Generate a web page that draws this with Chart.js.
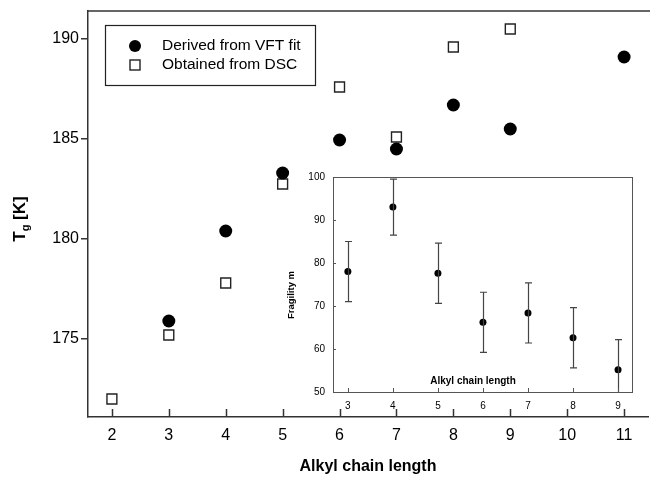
<!DOCTYPE html>
<html>
<head>
<meta charset="utf-8">
<script src="https://cdn.jsdelivr.net/npm/chart.js@4.4.1/dist/chart.umd.min.js"></script>
<style>
  html, body { margin: 0; padding: 0; background: #fff; }
  #wrap { position: relative; width: 650px; height: 477px; }
  #mainChart { position: absolute; left: 0; top: 0; }
  #insetChart { position: absolute; left: 280px; top: 165px; }
</style>
</head>
<body>
<div id="wrap">
  <canvas id="mainChart" width="650" height="477"></canvas>
  <canvas id="insetChart" width="365" height="250"></canvas>
</div>
<script>
// dati grafico principale
const vftChain = [3, 4, 5, 6, 7, 8, 9, 11];
const vftTg = [175.9, 180.4, 183.3, 184.95, 184.5, 186.7, 185.5, 189.1];
const dscChain = [2, 3, 4, 5, 6, 7, 8, 9];
const dscTg = [172.0, 175.2, 177.8, 182.75, 187.6, 185.1, 189.6, 190.5];
const mainXTicks = [2, 3, 4, 5, 6, 7, 8, 9, 10, 11];
const mainYTicks = [175, 180, 185, 190];

// dati inserto (fragilita)
const insetChain = [3, 4, 5, 6, 7, 8, 9];
const fragility = [78.0, 93.0, 77.6, 66.2, 68.4, 62.6, 55.2];
const fragilityErr = [7.0, 6.5, 7.0, 7.0, 7.0, 7.0, 7.0];
const insetXTicks = [3, 4, 5, 6, 7, 8, 9];
const insetYTicks = [50, 60, 70, 80, 90, 100];

const FONT = "'Liberation Sans', Arial, Helvetica, sans-serif";
const AXIS = '#333';

// niente padding automatico per le etichette agli estremi
function noEdgePad(s) {
  s.paddingLeft = 0;
  s.paddingRight = 0;
  s.paddingTop = 0;
  s.paddingBottom = 0;
}

// tick verso l'interno sull'asse x + bordo superiore + titolo y + legenda
const mainDecor = {
  id: 'mainDecor',
  afterDraw(chart) {
    const ctx = chart.ctx;
    const a = chart.chartArea;
    const xs = chart.scales.x;
    ctx.save();
    ctx.strokeStyle = AXIS;
    ctx.lineWidth = 1.5;
    // bordo superiore
    ctx.beginPath();
    ctx.moveTo(a.left, a.top);
    ctx.lineTo(650, a.top);
    ctx.stroke();
    // tick interni asse x
    mainXTicks.forEach(v => {
      const px = Math.round(xs.getPixelForValue(v)) + 0.5;
      ctx.beginPath();
      ctx.moveTo(px, a.bottom);
      ctx.lineTo(px, a.bottom - 8);
      ctx.stroke();
    });
    // titolo asse y: T_g [K]
    ctx.translate(20, (a.top + a.bottom) / 2 + 5);
    ctx.rotate(-Math.PI / 2);
    ctx.fillStyle = '#000';
    ctx.textBaseline = 'middle';
    ctx.font = 'bold 17px ' + FONT;
    const wT = ctx.measureText('T').width;
    ctx.font = 'bold 11px ' + FONT;
    const wg = ctx.measureText('g').width;
    ctx.font = 'bold 17px ' + FONT;
    const wK = ctx.measureText(' [K]').width;
    let x0 = -(wT + wg + wK) / 2;
    ctx.fillText('T', x0, 0);
    ctx.font = 'bold 11px ' + FONT;
    ctx.fillText('g', x0 + wT, 6);
    ctx.font = 'bold 17px ' + FONT;
    ctx.fillText(' [K]', x0 + wT + wg, 0);
    ctx.restore();

    // legenda
    ctx.save();
    const lx = a.left + 17, ly = a.top + 14, lw = 210, lh = 60;
    ctx.strokeStyle = '#222';
    ctx.lineWidth = 1.2;
    ctx.strokeRect(lx + 0.5, ly + 0.5, lw, lh);
    ctx.font = '15.5px ' + FONT;
    ctx.textBaseline = 'middle';
    ctx.fillStyle = '#000';
    chart.data.datasets.forEach((ds, i) => {
      const cy = ly + 21 + i * 19;
      const cx = lx + 30;
      if (ds.pointStyle === 'rect') {
        ctx.fillStyle = '#fff';
        ctx.fillRect(cx - 5, cy - 5, 10, 10);
        ctx.strokeStyle = '#222';
        ctx.lineWidth = 1.4;
        ctx.strokeRect(cx - 5, cy - 5, 10, 10);
      } else {
        ctx.fillStyle = '#000';
        ctx.beginPath();
        ctx.arc(cx, cy, 6, 0, Math.PI * 2);
        ctx.fill();
      }
      ctx.fillStyle = '#000';
      ctx.fillText(ds.label, lx + 57, cy);
    });
    ctx.restore();
  }
};

const mainChart = new Chart(document.getElementById('mainChart'), {
  type: 'scatter',
  data: {
    datasets: [{
      label: 'Derived from VFT fit',
      data: vftChain.map((c, i) => ({ x: c, y: vftTg[i] })),
      pointStyle: 'circle',
      pointRadius: 6.5,
      backgroundColor: '#000',
      borderColor: '#000',
      borderWidth: 0
    }, {
      label: 'Obtained from DSC',
      data: dscChain.map((c, i) => ({ x: c, y: dscTg[i] })),
      pointStyle: 'rect',
      pointRadius: 7,
      backgroundColor: '#fff',
      borderColor: '#222',
      borderWidth: 1.4
    }]
  },
  options: {
    responsive: false,
    animation: false,
    layout: { autoPadding: false, padding: { left: 0, right: 2, top: 11, bottom: 0 } },
    plugins: {
      legend: { display: false },
      tooltip: { enabled: false }
    },
    scales: {
      x: {
        type: 'linear',
        min: 1.58,
        max: 11.42,
        afterBuildTicks: s => { s.ticks = mainXTicks.map(v => ({ value: v })); },
        afterFit: s => { s.height = 60; noEdgePad(s); },
        grid: { display: true, drawOnChartArea: false, drawTicks: false },
        border: { color: AXIS, width: 1.5 },
        ticks: { color: '#000', font: { family: FONT, size: 16 }, padding: 9 },
        title: {
          display: true,
          text: 'Alkyl chain length',
          color: '#000',
          font: { family: FONT, size: 16, weight: 'bold' },
          padding: { top: 0, bottom: 1 }
        }
      },
      y: {
        type: 'linear',
        min: 171.1,
        max: 191.4,
        afterBuildTicks: s => { s.ticks = mainYTicks.map(v => ({ value: v })); },
        afterFit: s => { s.width = 88; noEdgePad(s); },
        grid: { display: true, drawOnChartArea: false, drawTicks: true, tickLength: 7, color: AXIS, lineWidth: 1.5 },
        border: { color: AXIS, width: 1.5 },
        ticks: { color: '#000', font: { family: FONT, size: 16 }, padding: 2 }
      }
    }
  },
  plugins: [mainDecor]
});

// inserto: barre d'errore, cornice, tick interni, titoli
const insetDecor = {
  id: 'insetDecor',
  afterDatasetsDraw(chart) {
    const ctx = chart.ctx;
    const a = chart.chartArea;
    const xs = chart.scales.x, ys = chart.scales.y;
    ctx.save();
    ctx.beginPath();
    ctx.rect(a.left, a.top, a.right - a.left, a.bottom - a.top);
    ctx.clip();
    ctx.strokeStyle = '#444';
    ctx.lineWidth = 1.2;
    insetChain.forEach((c, i) => {
      const px = Math.round(xs.getPixelForValue(c)) + 0.5;
      const yt = ys.getPixelForValue(fragility[i] + fragilityErr[i]);
      const yb = ys.getPixelForValue(fragility[i] - fragilityErr[i]);
      ctx.beginPath();
      ctx.moveTo(px, yt);
      ctx.lineTo(px, yb);
      ctx.moveTo(px - 3.5, yt);
      ctx.lineTo(px + 3.5, yt);
      ctx.moveTo(px - 3.5, yb);
      ctx.lineTo(px + 3.5, yb);
      ctx.stroke();
    });
    ctx.restore();
  },
  afterDraw(chart) {
    const ctx = chart.ctx;
    const a = chart.chartArea;
    const xs = chart.scales.x, ys = chart.scales.y;
    ctx.save();
    ctx.strokeStyle = '#555';
    ctx.lineWidth = 1;
    ctx.strokeRect(a.left + 0.5, a.top + 0.5, a.right - a.left, a.bottom - a.top);
    insetXTicks.forEach(v => {
      const px = Math.round(xs.getPixelForValue(v)) + 0.5;
      ctx.beginPath();
      ctx.moveTo(px, a.bottom);
      ctx.lineTo(px, a.bottom - 4);
      ctx.stroke();
    });
    insetYTicks.forEach(v => {
      const py = Math.round(ys.getPixelForValue(v)) + 0.5;
      ctx.beginPath();
      ctx.moveTo(a.left, py);
      ctx.lineTo(a.left + 3, py);
      ctx.stroke();
    });
    ctx.fillStyle = '#000';
    ctx.font = 'bold 10px ' + FONT;
    ctx.textAlign = 'center';
    ctx.textBaseline = 'middle';
    ctx.fillText('Alkyl chain length', 193, a.bottom - 11);
    ctx.translate(11, 130);
    ctx.rotate(-Math.PI / 2);
    ctx.font = 'bold 9.5px ' + FONT;
    ctx.fillText('Fragility m', 0, 0);
    ctx.restore();
  }
};

const insetChart = new Chart(document.getElementById('insetChart'), {
  type: 'scatter',
  data: {
    datasets: [{
      label: 'Fragility m',
      data: insetChain.map((c, i) => ({ x: c, y: fragility[i] })),
      pointRadius: 3.5,
      backgroundColor: '#000',
      borderWidth: 0
    }]
  },
  options: {
    responsive: false,
    animation: false,
    layout: { autoPadding: false, padding: { left: 0, right: 13, top: 12, bottom: 0 } },
    plugins: {
      legend: { display: false },
      tooltip: { enabled: false }
    },
    scales: {
      x: {
        type: 'linear',
        min: 2.67,
        max: 9.31,
        afterBuildTicks: s => { s.ticks = insetXTicks.map(v => ({ value: v })); },
        afterFit: s => { s.height = 23; noEdgePad(s); },
        grid: { display: true, drawOnChartArea: false, drawTicks: false },
        border: { display: false },
        ticks: { color: '#000', font: { family: FONT, size: 10 }, padding: 8 }
      },
      y: {
        type: 'linear',
        min: 50,
        max: 100,
        afterBuildTicks: s => { s.ticks = insetYTicks.map(v => ({ value: v })); },
        afterFit: s => { s.width = 53; noEdgePad(s); },
        grid: { display: true, drawOnChartArea: false, drawTicks: false },
        border: { display: false },
        ticks: { color: '#000', font: { family: FONT, size: 10 }, padding: 8 }
      }
    }
  },
  plugins: [insetDecor]
});
</script>
</body>
</html>
